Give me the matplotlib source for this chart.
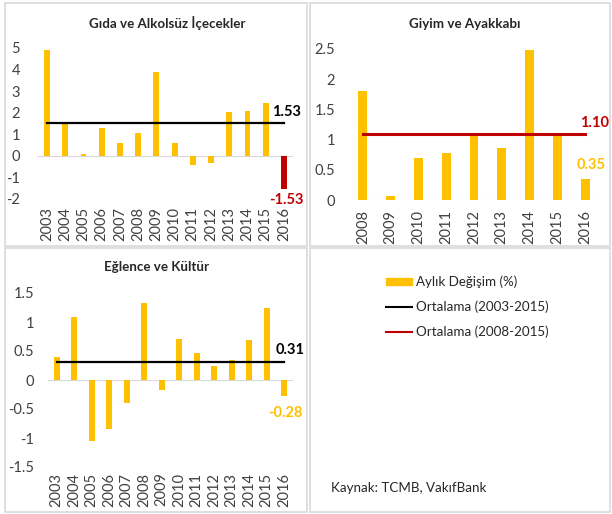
import matplotlib
matplotlib.use("Agg")
import matplotlib.pyplot as plt
from matplotlib.patches import Rectangle
from matplotlib.lines import Line2D

plt.rcParams['font.family'] = ['Lato', 'DejaVu Sans']

# data
years_a = ['2003', '2004', '2005', '2006', '2007', '2008', '2009',
           '2010', '2011', '2012', '2013', '2014', '2015', '2016']
gida = [4.92, 1.50, 0.07, 1.28, 0.58, 1.04, 3.91, 0.58, -0.42, -0.34,
        2.02, 2.07, 2.45, -1.53]
gida_avg = 1.53

years_b = ['2008', '2009', '2010', '2011', '2012', '2013', '2014', '2015', '2016']
giyim = [1.81, 0.06, 0.69, 0.78, 1.09, 0.86, 2.49, 1.06, 0.35]
giyim_avg = 1.10

eglence = [0.39, 1.09, -1.06, -0.85, -0.40, 1.32, -0.17, 0.70, 0.46, 0.25,
           0.34, 0.69, 1.25, -0.28]
eglence_avg = 0.31

YELLOW = '#FFC000'
RED = '#C00000'
W, H = 612, 514

fig = plt.figure(figsize=(W / 100, H / 100), dpi=100)
fig.patch.set_facecolor('white')


def px_axes(x0, y0, x1, y1):
    return fig.add_axes([x0 / W, 1 - y1 / H, (x1 - x0) / W, (y1 - y0) / H])


def panel(box, title, title_xy, cats, vals, avg, avg_color, last_color,
          ylim, yticks, ylabels, ypad, xpad, avg_off, last_off):
    ax = px_axes(*box)
    x = list(range(len(cats)))
    colors = [YELLOW] * (len(vals) - 1) + [last_color]
    ax.bar(x, vals, width=0.32, color=colors, zorder=2)
    ax.plot([x[0], x[-1]], [avg, avg], color=avg_color,
            lw=1.6 if avg_color == 'black' else 2.2, zorder=3)
    ax.axhline(0, color='#d9d9d9', lw=0.8, zorder=1)
    ax.set_xlim(-0.5, len(cats) - 0.5)
    ax.set_ylim(*ylim)
    ax.set_yticks(yticks)
    ax.set_yticklabels(ylabels)
    ax.set_xticks(x)
    ax.set_xticklabels(cats, rotation=90)
    ax.tick_params(axis='y', length=0, pad=ypad, labelsize=10.5, labelcolor='#404040')
    ax.tick_params(axis='x', length=0, pad=xpad, labelsize=10.5, labelcolor='#404040')
    for s in ax.spines.values():
        s.set_visible(False)
    ax.patch.set_alpha(0)
    ax.annotate('%.2f' % avg, (x[-1], avg), xytext=avg_off, textcoords='offset points',
                ha='center', va='center', fontsize=10.5, fontweight='bold', color=avg_color)
    ax.annotate('%.2f' % vals[-1], (x[-1], vals[-1]), xytext=last_off,
                textcoords='offset points', ha='center', va='center',
                fontsize=10.5, fontweight='bold', color=last_color)
    fig.text(title_xy[0] / W, 1 - title_xy[1] / H, title, ha='center', va='center',
             fontsize=9.6, fontweight='bold', color='#262626')
    return ax


panel((38, 48, 293, 199), 'Gıda ve Alkolsüz İçecekler', (167, 23), years_a, gida,
      gida_avg, 'black', RED, (-2, 5), range(-2, 6), [str(v) for v in range(-2, 6)],
      13, 6, (2, 7.5), (2, -8))

panel((349, 49, 599, 200), 'Giyim ve Ayakkabı', (465, 24), years_b, giyim,
      giyim_avg, RED, YELLOW, (0, 2.5), [0, 0.5, 1, 1.5, 2, 2.5],
      ['0', '0.5', '1', '1.5', '2', '2.5'], 10, 7, (7, 7.5), (4, 10))

panel((48, 293, 293, 467), 'Eğlence ve Kültür', (157, 267), years_a, eglence,
      eglence_avg, 'black', YELLOW, (-1.5, 1.5), [-1.5, -1, -0.5, 0, 0.5, 1, 1.5],
      ['-1.5', '-1', '-0.5', '0', '0.5', '1', '1.5'], 10, 4, (4, 9), (1, -12))

# overlay in pixel coordinates: panel frames, legend, source note
ov = fig.add_axes([0, 0, 1, 1], zorder=-1)
ov.set_xlim(0, W)
ov.set_ylim(H, 0)
ov.axis('off')
for bx in [(5, 3, 307, 246), (310, 3, 610, 246), (5, 248, 307, 512), (310, 248, 610, 512)]:
    ov.add_patch(Rectangle((bx[0], bx[1]), bx[2] - bx[0], bx[3] - bx[1],
                           fill=False, ec='#d9d9d9', lw=1.2))

leg = fig.add_axes([0, 0, 1, 1], zorder=5)
leg.set_xlim(0, W)
leg.set_ylim(H, 0)
leg.axis('off')
leg.add_patch(Rectangle((386, 278), 26, 7, color=YELLOW))
leg.add_line(Line2D([386, 412], [307, 307], color='black', lw=1.5))
leg.add_line(Line2D([386, 412], [332, 332], color=RED, lw=1.5))
for yy, t in [(282, 'Aylık Değişim (%)'), (307, 'Ortalama (2003-2015)'),
              (332, 'Ortalama (2008-2015)')]:
    leg.text(416, yy, t, ha='left', va='center', fontsize=9.6, color='#262626')
leg.text(331, 488, 'Kaynak: TCMB, VakıfBank', ha='left', va='center', fontsize=9.6,
         color='#262626')

fig.savefig('out.png', dpi=100, facecolor='white')
